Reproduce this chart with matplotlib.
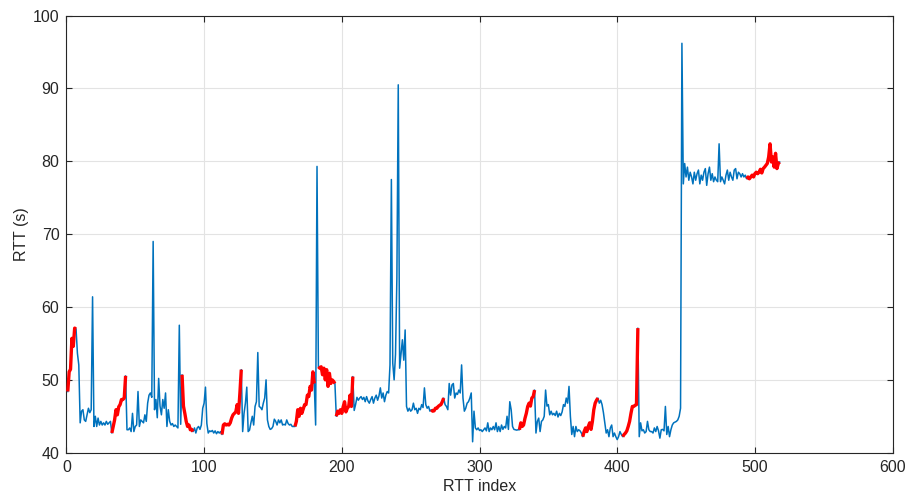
import numpy as np
import matplotlib
matplotlib.use("Agg")
import matplotlib.pyplot as plt

# RTT samples, index 1..518
rtt = [
    48.4, 51.1, 51.45, 55.7, 54.6, 57.1, 57.0, 53.65, 52.05, 44.1,
    45.7, 45.9, 44.5, 44.3, 45.2, 46.1, 45.5, 45.9, 61.4, 43.6,
    45.0, 43.6, 44.75, 43.8, 44.3, 43.8, 44.1, 43.8, 44.3, 43.9,
    44.1, 44.3, 42.7, 43.6, 44.5, 45.9, 45.2, 46.3, 46.6, 47.3,
    47.3, 47.5, 50.55, 43.15, 43.15, 43.4, 42.9, 45.4, 42.9, 43.6,
    43.8, 48.4, 43.6, 44.5, 44.3, 44.1, 45.2, 44.3, 46.8, 47.9,
    48.2, 47.6, 69.0, 45.9, 47.3, 44.8, 50.2, 46.4, 45.2, 47.3,
    46.1, 48.2, 43.6, 45.9, 44.3, 43.8, 44.0, 43.6, 43.8, 43.6,
    43.4, 57.5, 43.9, 50.7, 46.4, 45.4, 44.3, 43.6, 43.8, 43.15,
    43.2, 42.9, 43.4, 42.7, 43.4, 43.6, 43.2, 43.8, 46.1, 46.8,
    49.0, 44.0, 42.7, 43.0, 42.9, 43.05, 42.7, 43.0, 42.6, 42.9,
    42.7, 42.9, 42.5, 43.8, 43.97, 43.8, 43.9, 43.8, 44.1, 44.75,
    45.2, 45.4, 45.6, 46.6, 45.4, 48.2, 51.4, 42.9, 45.4, 46.8,
    49.0, 42.9, 43.1, 44.1, 45.0, 43.8, 46.35, 47.0, 53.75, 46.35,
    46.2, 45.9, 46.8, 47.5, 50.0, 44.5, 43.6, 43.2, 43.3, 43.6,
    44.6, 44.3, 43.8, 44.5, 44.1, 44.5, 43.8, 43.9, 43.8, 44.5,
    44.0, 43.8, 43.9, 43.6, 43.6, 43.6, 44.3, 45.9, 45.0, 46.1,
    45.4, 46.0, 46.6, 46.6, 47.9, 47.7, 49.1, 48.6, 51.1, 49.5,
    43.8, 79.3, 51.8, 51.6, 51.8, 50.7, 51.6, 50.0, 51.4, 49.1,
    50.9, 49.5, 50.0, 49.8, 49.5, 45.0, 45.7, 45.4, 45.9, 45.4,
    46.3, 47.0, 45.6, 46.1, 46.35, 47.9, 46.35, 50.45, 45.8, 46.6,
    47.6, 47.2, 47.5, 47.7, 47.3, 47.6, 47.0, 47.7, 47.1, 46.8,
    47.3, 47.7, 46.8, 47.5, 47.9, 47.2, 47.8, 48.9, 47.5, 48.2,
    47.0, 47.9, 48.4, 48.2, 52.05, 77.5, 52.3, 50.0, 53.5, 64.0,
    90.5, 51.6, 53.5, 55.5, 52.7, 56.85, 46.35, 45.7, 46.1, 45.7,
    45.9, 46.8, 45.9, 46.1, 45.4, 46.1, 45.9, 46.6, 46.2, 48.9,
    46.6, 46.1, 46.35, 45.7, 45.9, 45.7, 45.75, 46.1, 46.1, 46.35,
    46.5, 46.6, 47.0, 47.5, 46.6, 46.35, 45.9, 49.5, 47.9, 49.3,
    49.5, 47.5, 48.2, 48.0, 48.6, 48.2, 52.05, 47.5, 45.7, 46.1,
    46.8, 47.0, 47.5, 48.2, 41.5, 45.7, 43.4, 43.15, 43.4, 43.05,
    43.15, 42.9, 43.15, 43.4, 43.0, 44.1, 42.9, 43.4, 43.15, 43.6,
    43.15, 44.1, 42.9, 43.6, 42.9, 43.8, 43.2, 43.6, 43.4, 45.0,
    43.2, 47.0, 45.9, 43.6, 43.2, 43.15, 43.1, 43.15, 43.15, 44.1,
    43.6, 43.8, 44.7, 45.4, 46.35, 46.8, 46.4, 47.5, 47.7, 48.6,
    42.7, 44.3, 44.75, 42.9, 44.3, 44.5, 45.0, 48.6, 46.4, 46.6,
    45.2, 45.7, 45.2, 45.4, 45.1, 45.7, 44.9, 45.4, 45.1, 45.6,
    46.6, 46.35, 47.5, 46.8, 49.1, 45.0, 42.5, 43.6, 42.2, 43.6,
    42.9, 43.15, 43.0, 42.7, 42.2, 42.9, 43.4, 42.9, 43.6, 44.1,
    43.2, 44.3, 45.9, 46.8, 47.2, 47.5, 46.8, 47.2, 46.6, 45.5,
    44.1, 42.7, 43.15, 42.2, 43.4, 43.8, 42.2, 42.7, 42.2, 41.8,
    42.2, 42.9, 42.5, 42.2, 42.5, 42.7, 43.0, 43.6, 44.3, 45.4,
    46.35, 46.35, 46.5, 46.6, 57.1, 42.2, 44.1, 43.0, 43.15, 42.7,
    42.9, 44.3, 43.15, 42.9, 42.9, 42.7, 43.4, 42.9, 43.6, 43.0,
    42.0, 43.15, 43.2, 43.0, 46.35, 42.5, 43.6, 42.2, 43.15, 43.8,
    44.1, 44.2, 44.3, 44.5, 45.0, 46.1, 96.2, 76.9, 79.7, 77.85,
    79.2, 77.4, 78.5, 77.85, 76.9, 78.5, 77.4, 78.3, 78.8, 76.9,
    78.1, 77.4, 78.5, 79.0, 76.7, 78.3, 79.2, 77.4, 78.3, 77.2,
    77.85, 77.4, 77.2, 82.4, 77.2, 77.85, 77.4, 76.9, 78.1, 78.8,
    77.4, 78.5, 77.85, 77.4, 78.8, 79.0, 77.6, 78.5, 78.3, 77.85,
    78.3, 77.85, 78.1, 77.6, 77.85, 77.6, 77.85, 78.1, 77.85, 78.3,
    78.5, 78.3, 78.5, 78.9, 78.4, 79.0, 79.2, 79.45, 79.7, 80.6,
    82.4, 79.9, 80.6, 79.2, 81.1, 79.0, 79.7, 79.9,
]

# highlighted stretches (first and last RTT index, inclusive)
red_ranges = [(1, 7), (33, 43), (84, 92), (113, 127), (166, 180), (183, 195),
              (196, 208), (265, 274), (329, 340), (375, 386), (404, 415), (494, 518)]

x_ticks = [0, 100, 200, 300, 400, 500, 600]
y_ticks = [40, 50, 60, 70, 80, 90, 100]

plt.rcParams['font.family'] = ['Liberation Sans', 'DejaVu Sans']

fig = plt.figure(figsize=(9.07, 4.98), dpi=100)
ax = fig.add_axes([66.4 / 907, 1 - 452.7 / 498, (892.6 - 66.4) / 907, (452.7 - 15.6) / 498])

x = np.arange(1, len(rtt) + 1)
y = np.array(rtt)
ax.plot(x, y, color='#0072BD', lw=1.1, zorder=3)
for a, b in red_ranges:
    ax.plot(x[a - 1:b], y[a - 1:b], color='#FF0000', lw=2.4, zorder=4,
            solid_capstyle='butt', solid_joinstyle='round')

ax.set_xlim(0, 600)
ax.set_ylim(40, 100)
ax.set_xticks(x_ticks)
ax.set_yticks(y_ticks)
ax.grid(True, color='#E3E3E3', lw=0.8)
ax.set_axisbelow(True)

dark = '#262626'
for s in ax.spines.values():
    s.set_color(dark)
    s.set_linewidth(0.8)
ax.tick_params(direction='in', length=4, width=0.8, color=dark, labelcolor=dark,
               labelsize=11.5, top=True, right=True, pad=5)

ax.set_xlabel('RTT index', fontsize=11.5, color=dark, labelpad=3)
ax.set_ylabel('RTT (s)', fontsize=11.5, color=dark, labelpad=3)

fig.savefig('out.png', dpi=100)
